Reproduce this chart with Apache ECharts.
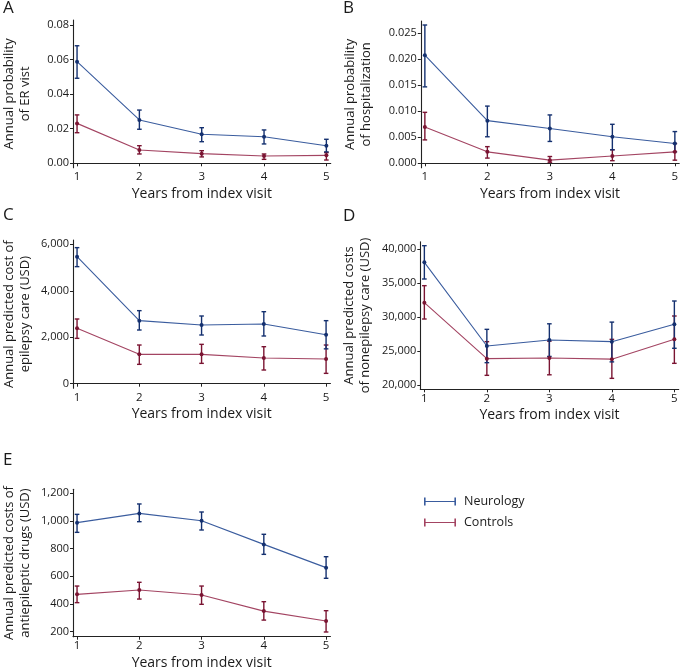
<!DOCTYPE html>
<html>
<head>
<meta charset="utf-8">
<script src="https://cdn.jsdelivr.net/npm/echarts@6/dist/echarts.min.js"></script>
<style>
html,body{margin:0;padding:0;background:#fff;}
#chart{width:684px;height:672px;}
</style>
</head>
<body>
<div id="chart"></div>
<script>
// ---------- data ----------
const years = [1, 2, 3, 4, 5];
const xTicks = [1, 2, 3, 4, 5];
const seriesNames = ['Neurology', 'Controls'];

// A: Annual probability of ER visit
const erNeuro   = [0.0588, 0.0251, 0.0168, 0.0154, 0.0102];
const erNeuroLo = [0.0492, 0.0197, 0.0125, 0.0112, 0.0066];
const erNeuroHi = [0.0680, 0.0308, 0.0206, 0.0193, 0.0139];
const erCtrl    = [0.0231, 0.0077, 0.0056, 0.0042, 0.0046];
const erCtrlLo  = [0.0177, 0.0054, 0.0037, 0.0023, 0.0019];
const erCtrlHi  = [0.0280, 0.0102, 0.0073, 0.0054, 0.0062];
const erTicks   = [0, 0.02, 0.04, 0.06, 0.08];

// B: Annual probability of hospitalization
const hospNeuro   = [0.0208, 0.0082, 0.0067, 0.0051, 0.0038];
const hospNeuroLo = [0.0147, 0.0051, 0.0042, 0.0026, 0.0022];
const hospNeuroHi = [0.0266, 0.0110, 0.0093, 0.0075, 0.0061];
const hospCtrl    = [0.0070, 0.0022, 0.0006, 0.0014, 0.0022];
const hospCtrlLo  = [0.0045, 0.0010, 0.0002, 0.0005, 0.0006];
const hospCtrlHi  = [0.0098, 0.0032, 0.0013, 0.0026, 0.0038];
const hospTicks   = [0, 0.005, 0.010, 0.015, 0.020, 0.025];

// C: Annual predicted cost of epilepsy care (USD)
const epiNeuro   = [5469, 2713, 2526, 2569, 2110];
const epiNeuroLo = [5038, 2311, 2096, 2053, 1500];
const epiNeuroHi = [5856, 3144, 2914, 3100, 2713];
const epiCtrl    = [2383, 1263, 1263, 1105, 1062];
const epiCtrlLo  = [1952,  833,  876,  589,  445];
const epiCtrlHi  = [2785, 1665, 1694, 1593, 1665];
const epiTicks   = [0, 2000, 4000, 6000];

// D: Annual predicted costs of nonepilepsy care (USD)
const nonNeuro   = [38040, 25735, 26618, 26373, 28922];
const nonNeuroLo = [35588, 23284, 24200, 23400, 25400];
const nonNeuroHi = [40490, 28186, 29000, 29250, 32353];
const nonCtrl    = [32108, 23873, 23970, 23800, 26716];
const nonCtrlLo  = [29706, 21422, 21500, 20980, 23186];
const nonCtrlHi  = [34608, 26373, 26450, 26716, 30147];
const nonTicks   = [20000, 25000, 30000, 35000, 40000];

// E: Annual predicted costs of antiepileptic drugs (USD)
const aedNeuro   = [988, 1055, 1002, 831, 663];
const aedNeuroLo = [918,  995,  935, 759, 586];
const aedNeuroHi = [1048, 1123, 1065, 904, 742];
const aedCtrl    = [470, 501, 465, 349, 277];
const aedCtrlLo  = [410, 436, 398, 284, 198];
const aedCtrlHi  = [530, 557, 530, 417, 352];
const aedTicks   = [200, 400, 600, 800, 1000, 1200];

// ---------- styling / layout ----------
const FONT = 'Open Sans';
const BLUE_LINE = '#3a5c9e', BLUE_DARK = '#14306f';
const RED_LINE = '#a34462', RED_DARK = '#7a1432';
const TXT = '#1a1a1a';

const fmtComma = v => v.toLocaleString('en-US');
const panels = [
  {letter:'A', lx:3, ly:0, title:'Annual probability\nof ER vist', left:72.3, top:20, height:147.7, min:-0.00254, max:0.0829,
   ticks:erTicks, fmt:v=>v.toFixed(2), nameGap:40,
   n:[erNeuro, erNeuroLo, erNeuroHi], c:[erCtrl, erCtrlLo, erCtrlHi]},
  {letter:'B', lx:343, ly:0, title:'Annual probability\nof hospitalization', left:420.8, top:21, height:146.7, min:-0.00085, max:0.02737,
   ticks:hospTicks, fmt:v=>v.toFixed(3), nameGap:47,
   n:[hospNeuro, hospNeuroLo, hospNeuroHi], c:[hospCtrl, hospCtrlLo, hospCtrlHi]},
  {letter:'C', lx:3, ly:207, title:'Annual predicted cost of\nepilepsy care (USD)', left:72.0, top:240, height:148.3, min:-198, max:6185,
   ticks:epiTicks, fmt:fmtComma, nameGap:40,
   n:[epiNeuro, epiNeuroLo, epiNeuroHi], c:[epiCtrl, epiCtrlLo, epiCtrlHi]},
  {letter:'D', lx:343, ly:208, title:'Annual predicted costs\nof nonepilepsy care (USD)', left:420.3, top:241.7, height:147.6, min:19368, max:41074,
   ticks:nonTicks, fmt:fmtComma, nameGap:47,
   n:[nonNeuro, nonNeuroLo, nonNeuroHi], c:[nonCtrl, nonCtrlLo, nonCtrlHi]},
  {letter:'E', lx:3, ly:452, title:'Annual predicted costs of\nantiepileptic drugs (USD)', left:72.0, top:489.3, height:147.4, min:164, max:1229,
   ticks:aedTicks, fmt:fmtComma, nameGap:40,
   n:[aedNeuro, aedNeuroLo, aedNeuroHi], c:[aedCtrl, aedCtrlLo, aedCtrlHi]}
];

const X_MIN = 0.935, X_MAX = 5.07, GRID_W = (X_MAX - X_MIN) * 62.5;

const grid = [], xAxis = [], yAxis = [], series = [], title = [];

function errRender(color) {
  return function (params, api) {
    const x = api.value(0);
    const lo = api.coord([x, api.value(1)]);
    const hi = api.coord([x, api.value(2)]);
    const w = 2.3;
    const st = {stroke: color, lineWidth: 1.4};
    return {type:'group', children:[
      {type:'line', shape:{x1:lo[0], y1:lo[1], x2:hi[0], y2:hi[1]}, style:st},
      {type:'line', shape:{x1:lo[0]-w, y1:lo[1], x2:lo[0]+w, y2:lo[1]}, style:st},
      {type:'line', shape:{x1:hi[0]-w, y1:hi[1], x2:hi[0]+w, y2:hi[1]}, style:st}
    ]};
  };
}

panels.forEach((p, i) => {
  grid.push({left:p.left, top:p.top, width:GRID_W, height:p.height});
  title.push({text:p.letter, left:p.lx, top:p.ly, padding:0,
    textStyle:{fontFamily:FONT, fontSize:17, fontWeight:'normal', color:TXT}});
  xAxis.push({type:'value', gridIndex:i, min:X_MIN, max:X_MAX,
    name:'Years from index visit', nameLocation:'middle', nameGap:19,
    nameTextStyle:{fontFamily:FONT, fontSize:14, color:TXT},
    axisLine:{show:true, lineStyle:{color:'#222', width:1.1}},
    axisTick:{show:true, customValues:xTicks, length:3, lineStyle:{color:'#222'}},
    axisLabel:{customValues:xTicks, fontFamily:FONT, fontSize:11.5, color:TXT, margin:3},
    splitLine:{show:false}});
  yAxis.push({type:'value', gridIndex:i, min:p.min, max:p.max,
    name:p.title, nameLocation:'middle', nameGap:p.nameGap, nameRotate:90,
    nameTextStyle:{fontFamily:FONT, fontSize:13, color:TXT, lineHeight:16},
    axisLine:{show:true, lineStyle:{color:'#222', width:1.1}},
    axisTick:{show:true, customValues:p.ticks, length:3, lineStyle:{color:'#222'}},
    axisLabel:{customValues:p.ticks, formatter:p.fmt, fontFamily:FONT, fontSize:11, color:TXT, margin:4},
    splitLine:{show:false}});
  const groups = [
    {name:seriesNames[1], d:p.c, line:RED_LINE, dark:RED_DARK},
    {name:seriesNames[0], d:p.n, line:BLUE_LINE, dark:BLUE_DARK}
  ];
  groups.forEach(g => {
    series.push({type:'custom', name:g.name, xAxisIndex:i, yAxisIndex:i,
      renderItem:errRender(g.dark), encode:{x:0, y:[1,2]}, z:3,
      data: years.map((x, k) => [x, g.d[1][k], g.d[2][k]]), silent:true});
    series.push({type:'line', name:g.name, xAxisIndex:i, yAxisIndex:i,
      data: years.map((x, k) => [x, g.d[0][k]]),
      lineStyle:{color:g.line, width:1.1}, itemStyle:{color:g.dark},
      color:g.line,
      symbol:'circle', symbolSize:4, showSymbol:true, z:4, silent:true, animation:false});
  });
});

const ebIcon = 'path://M0,0h1.6v8h-1.6z M0,3.4h32v1.2h-32z M30.4,0h1.6v8h-1.6z';

const option = {
  animation:false,
  title,
  grid, xAxis, yAxis, series,
  legend:{
    orient:'vertical', left:419, top:490,
    data:[{name:'Neurology', icon:ebIcon, itemStyle:{color:BLUE_LINE}},
          {name:'Controls', icon:ebIcon, itemStyle:{color:RED_LINE}}],
    itemWidth:32, itemHeight:8, itemGap:8,
    textStyle:{fontFamily:FONT, fontSize:12.5, color:TXT, padding:[0,0,0,3]},
    selectedMode:false
  }
};

const chart = echarts.init(document.getElementById('chart'), null, {renderer:'canvas'});
chart.setOption(option);
</script>
</body>
</html>
